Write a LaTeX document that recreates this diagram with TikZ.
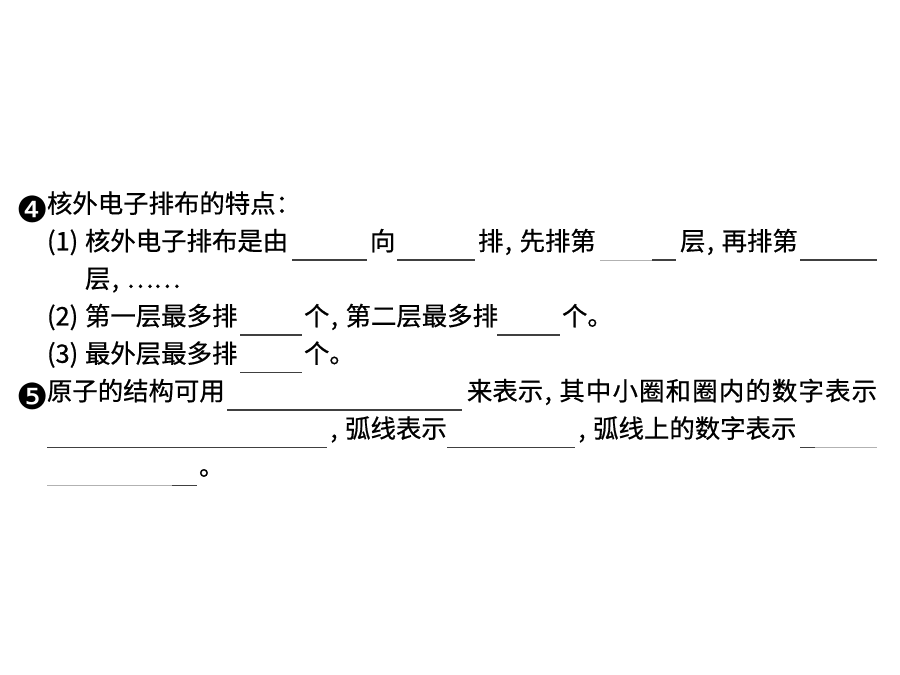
\documentclass[tikz,border=0pt]{standalone}
\usepackage{fontspec}
\setmainfont{Noto Sans CJK SC}[FakeBold=0.6]
\newfontfamily\dingfont{DejaVu Sans}
\begin{document}
\begin{tikzpicture}[x=1bp,y=-1bp,
  txt/.style={anchor=west,inner sep=0pt,outer sep=0pt,text height=0.88em,text depth=0.12em,font=\fontsize{25.4bp}{25.4bp}\selectfont},
  num/.style={anchor=center,inner sep=0pt,font=\dingfont\fontsize{36bp}{36bp}\selectfont},
  blank/.style={draw=black!75,line width=1.1bp},
  lblank/.style={draw=black!30,line width=1bp}]
\fill[white] (0,0) rectangle (900,675);
\useasboundingbox (0,0) rectangle (900,675);
\newcommand{\cm}{\kern0.06em,\kern0.3em}
% line 1
\node[num] (n4) at (33,209) {❹};
\node[txt] (t1) at (47,209) {核外电子排布的特点：};
% line 2
\node[txt] (p1) at (47,246.5) {(1)};
\node[txt] (t2a) at (85,246.5) {核外电子排布是由};
\draw[blank] (292,260) -- (367,260);
\node[txt] (t2b) at (370,246.5) {向};
\draw[blank] (397,260) -- (475,260);
\node[txt] (t2c) at (478,246.5) {排\cm 先排第};
\draw[lblank] (600,260) -- (652,260);
\draw[blank] (652,260) -- (676,260);
\node[txt] (t2d) at (680,246.5) {层\cm 再排第};
\draw[blank] (800,260) -- (877,260);
% line 3
\node[txt] (t3) at (85,284) {层\cm ……};
% line 4
\node[txt] (p2) at (47,321.5) {(2)};
\node[txt] (t4a) at (85,321.5) {第一层最多排};
\draw[blank] (240,335) -- (302,335);
\node[txt] (t4b) at (304,321.5) {个\cm 第二层最多排};
\draw[blank] (497,335) -- (560,335);
\node[txt] (t4c) at (562,321.5) {个。};
% line 5
\node[txt] (p3) at (47,359) {(3)};
\node[txt] (t5a) at (85,359) {最外层最多排};
\draw[blank] (240,372.5) -- (302,372.5);
\node[txt] (t5b) at (304,359) {个。};
% line 6
\node[num] (n5) at (33,396.5) {❺};
\node[txt] (t6a) at (47,396.5) {原子的结构可用};
\draw[blank] (227,410) -- (462,410);
\node[txt] (t6b) at (467,396.5) {来表示\cm {\addfontfeature{LetterSpace=4.6}其中小圈和圈内的数字表示}};
% line 7
\draw[blank] (47,447.5) -- (327,447.5);
\node[txt] (t7a) at (329,434) {\kern0.06em,\kern0.3em 弧线表示};
\draw[blank] (447,447.5) -- (575,447.5);
\node[txt] (t7b) at (577,434) {\kern0.06em,\kern0.3em 弧线上的数字表示};
\draw[blank] (800,447.5) -- (815,447.5);
\draw[lblank] (815,447.5) -- (877,447.5);
% line 8
\draw[lblank] (47,485.5) -- (172,485.5);
\draw[blank] (172,485.5) -- (197,485.5);
\node[txt] (t8) at (199,471.5) {。};
\end{tikzpicture}
\end{document}
